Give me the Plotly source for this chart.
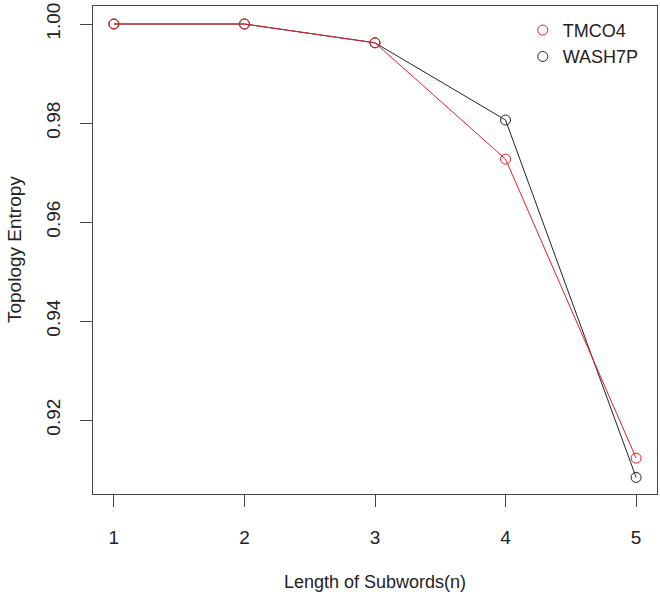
import plotly.graph_objects as go

subword_len = [1, 2, 3, 4, 5]
tmco4 = [1.0000, 1.0000, 0.9962, 0.9727, 0.9123]
wash7p = [1.0000, 1.0000, 0.9962, 0.9806, 0.9084]
y_ticks = [0.92, 0.94, 0.96, 0.98, 1.00]
y_tick_labels = ["0.92", "0.94", "0.96", "0.98", "1.00"]

RED = "#E0202A"
BLACK = "#222222"
FONT = "Liberation Sans, Arial, sans-serif"

fig = go.Figure()
fig.add_trace(go.Scatter(x=subword_len, y=wash7p, mode="lines+markers", name="WASH7P",
                         line=dict(color=BLACK, width=1),
                         marker=dict(symbol="circle-open", size=10, color=BLACK, line=dict(width=1)),
                         showlegend=False))
fig.add_trace(go.Scatter(x=subword_len, y=tmco4, mode="lines+markers", name="TMCO4",
                         line=dict(color=RED, width=1),
                         marker=dict(symbol="circle-open", size=10, color=RED, line=dict(width=1)),
                         showlegend=False))
# legend-only entries (markers only, like R legend with pch=1)
fig.add_trace(go.Scatter(x=[None], y=[None], mode="markers", name="TMCO4",
                         marker=dict(symbol="circle-open", size=10, color=RED, line=dict(width=1))))
fig.add_trace(go.Scatter(x=[None], y=[None], mode="markers", name="WASH7P",
                         marker=dict(symbol="circle-open", size=10, color=BLACK, line=dict(width=1))))

axis_common = dict(showgrid=False, zeroline=False, showline=True, mirror=True,
                   linecolor="#444444", linewidth=1, ticks="outside", ticklen=12,
                   tickcolor="#444444", tickwidth=1,
                   tickfont=dict(family=FONT, size=19, color="#222222"))

fig.update_layout(
    width=660, height=595,
    margin=dict(l=93, r=3, t=6, b=101),
    paper_bgcolor="white", plot_bgcolor="white",
    font=dict(family=FONT, size=18, color="#222222"),
    xaxis=dict(range=[0.84, 5.16], tickvals=subword_len, ticktext=[str(v) for v in subword_len],
               ticklabelstandoff=14, **axis_common),
    yaxis=dict(range=[0.90505, 1.003636], tickvals=y_ticks, ticktext=y_tick_labels,
               tickangle=-90, ticklabelstandoff=12, **axis_common),
    legend=dict(x=0.762, y=0.988, xanchor="left", yanchor="top", bgcolor="rgba(0,0,0,0)",
                font=dict(family=FONT, size=18, color="#222222"), itemwidth=30,
                tracegroupgap=0),
    annotations=[
        dict(text="Length of Subwords(n)", xref="paper", yref="paper", x=0.5, y=-0.1803,
             xanchor="center", yanchor="middle", showarrow=False,
             font=dict(family=FONT, size=18, color="#222222")),
        dict(text="Topology Entropy", xref="paper", yref="paper", x=-0.140, y=0.5,
             xanchor="center", yanchor="middle", textangle=-90, showarrow=False,
             font=dict(family=FONT, size=19, color="#222222")),
    ],
)

fig.write_html("out.html", post_script="document.body.style.margin='0';",
               config={"displayModeBar": False})
